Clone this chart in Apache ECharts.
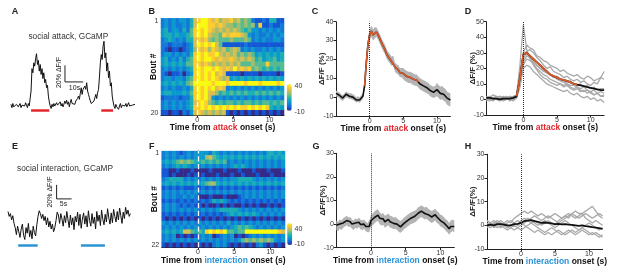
<!DOCTYPE html>
<html>
<head>
<meta charset="utf-8">
<script src="https://cdn.jsdelivr.net/npm/echarts@6/dist/echarts.min.js"></script>
<style>html,body{margin:0;padding:0;background:#fff}#graph{width:617px;height:275px}</style>
</head>
<body>
<div id="graph"></div>
<script>
"use strict"

const FONT = "Liberation Sans";
const RED = "#e0282c", BLUE = "#2b93d6", ORANGE = "#dc5a2a";
const PARULA = ["#352a87", "#0f5cdd", "#1481d6", "#06a4ca", "#2eb7a4", "#87bf77", "#d1bb59", "#fec832", "#f9fb0e"];

// A: raw trace during attack, 0.5 s steps, %dF/F
const attackTrace = [2,-2,3,-1,1,-3,2,4,-1,0,3,-2,1,-1,2,0,4,1,-2,3,0,
    2,18,45,40,52,48,57,63,50,55,42,50,38,45,33,40,28,32,22,25,12,5,
    0,-3,2,-1,3,0,-2,4,1,-1,2,5,0,3,-1,2,6,
    3,7,2,5,-1,4,8,3,1,5,2,6,4,9,
    12,8,15,22,14,20,18,24,20,28,18,14,10,6,3,
    4,1,6,10,14,9,16,20,
    35,52,62,56,72,78,58,64,42,52,34,42,24,28,12,5,
    0,-3,2,-1,1,-4,0,3,-2,1,2,-1,0,3,-1,1,4,0,2,-2,1,3,0,2];
const attackBouts = [[11, 21], [49.5, 56]];
const attackScale = [29.6, 29, 10, 20];   // x, y, 10 s, 20 %

// E: raw trace during interaction, 0.4 s steps
const socialTrace = [15,8,12,3,9,-2,
    -8,-18,-6,-14,-22,-10,-3,-19,-25,-8,-16,-2,-21,-12,-24,-6,-15,-20,-4,
    8,16,12,
    5,11,2,8,-4,6,-7,1,-10,-3,-14,-8,
    2,14,10,
    -2,12,4,-6,9,-1,15,3,-8,10,-4,6,-11,8,0,14,-5,11,-9,4,
    13,-3,9,-7,16,2,-6,12,-2,7,-10,15,1,10,-5,17,4,-4,11,0,
    19,6,-3,13,-1,18,8,0,15,3,20,9,-2,14,5,21,11,17,8,12];
const socialBouts = [[3.4, 9.9], [24.3, 32.3]];
const socialScale = [16.2, 33, 5, 20];

// B / F heatmaps: one string per bout, 0.5 s bins from -5 s to 12 s, levels 0..9 (-10 .. 40)
const attackRows = [
    "23232332" + "47" + "8998" + "78677867" + "565" + "211214411",
    "23232232" + "47" + "9998" + "8787" + "66565656" + "28112112",
    "34233242" + "58" + "9898" + "76767676" + "545332323232",
    "34434334" + "58" + "9897" + "665" + "878887" + "6" + "3232232323",
    "23432324" + "47" + "8786" + "5655565556" + "5" + "232322332",
    "22122212" + "37" + "989897" + "5" + "11111121111111111",
    "21011012" + "36" + "8786" + "87675676" + "232322323232",
    "23323232" + "48" + "9898" + "897" + "676756565" + "34343434",
    "34232424" + "58" + "9899" + "878" + "778767676" + "45344534",
    "34343435" + "58" + "8787" + "67676767" + "555655585555",
    "23232323" + "48" + "9899" + "89878797878" + "565454545",
    "21011202" + "38" + "9898" + "9787" + "1111011110111101",
    "23323324" + "58" + "9898" + "98767" + "343434343434343",
    "34343435" + "69" + "9999" + "89998999" + "989998999989",
    "23232232" + "48" + "9898" + "9787" + "2323232323232323",
    "34433343" + "58" + "9897" + "76" + "454545454454545454",
    "12222122" + "48" + "9897" + "32323232323232323232",
    "23232323" + "47" + "8986" + "54545545455454554545",
    "23232323" + "48" + "8989" + "8989898988989898" + "4343",
    "11011021" + "37" + "8767" + "6767" + "1010101010101010"
];
const socialRows = [
    "2323212323" + "3332432323" + "23232323244343",
    "2323232323" + "3367543434" + "34343434343434",
    "3434" + "56565" + "4" + "45454545" + "2323232323232323",
    "2323434323" + "2323232323" + "43432323232323",
    "1100100010" + "0001000100" + "01000100010001",
    "1101000101" + "0100010001" + "00100010001000",
    "2344442323" + "2323232323" + "34444323232323",
    "3434343434" + "3456643434" + "34343434343434",
    "1212121112" + "1212121212" + "12121212121212",
    "2323232323" + "2323232323" + "23232323232323",
    "2323223232" + "0001000100" + "01232323232323",
    "1212121212" + "1212434321" + "21212121212121",
    "2323212121" + "1010010101" + "00101010010101",
    "2323232323" + "2323234444" + "43232323232323",
    "1212121212" + "1212121234" + "34343432323232",
    "1010101010" + "1010101010" + "10101010101010",
    "3232323232" + "3232323242" + "32323232323232",
    "2323232323" + "2323232323" + "45454323232323",
    "343434" + "77" + "5454" + "898989" + "55455" + "99999999987",
    "2323010101" + "2323012323" + "01012323232323",
    "2323232323" + "2323232323" + "23" + "565656565" + "323",
    "1010101010" + "1010232310" + "10101023101010"
];
const levelValues = [-10, -4.4, 1.1, 6.7, 12.2, 17.8, 23.3, 28.9, 34.4, 40];

// C: mean +- sem, attack, 0.25 s steps from -5 s
const attackMean = [2,1.5,1,0, -0.5,0.5,1.5,1, 0.5,0.5,0,-0.5, -1.5,-1,-1.5,-0.5,
    0.5,6,18,28, 33,35,33,34, 34.5,33,31,29, 27,25.5,23,21.5, 20.5,19,19.5,16,
    15,14.5,13,13, 12.5,11.5,11,10.5, 10.5,10,9.5,9, 9,8,7,6.5, 6,5.5,5,4.5,
    3.5,3,2.5,3, 4,3,2,2.5, 1.5,1,-0.5,-1, -1.5];
const attackSem = [1.5,1.5,1.5,1.5, 1.5,1.5,1.5,1.5, 1.5,1.5,1.5,1.5, 1.5,1.5,1.5,1.5,
    1.5,2,2.5,3, 3,3,3,3, 2.5,2.5,2.5,2.5, 2.5,2.5,2.5,2.5, 2.5,2.5,2.5,2.5,
    2.5,2.5,2.5,2.5, 3,3,3,3, 3,3,3,3, 3,3,3,3, 3,3,3,3,
    3,3,3,3, 3.5,3.5,3.5,3.5, 3.5,3.5,3.5,3.5, 3.5];
const attackWindowC = [-0.75, 7.25];

// D: per-animal attack responses, 0.5 s steps from -5.5 s
const attackAnimals = [
    [1,2,0,1,2,1,0,1,2,3, 22,48,32,27,24,22,20,19,17,16, 15,13,12,11,10,9,9,8,7,8, 6,5,6,4,5,4],
    [2,1,3,2,1,2,1,2,1,2, 15,30,35,33,32,28,27,25,24,22, 21,20,18,19,17,16,15,16,14,13, 15,14,12,13,14,13],
    [0,1,1,0,2,1,2,0,1,1, 12,28,31,32,30,27,25,22,20,21, 18,17,16,14,15,13,12,13,11,12, 10,9,11,10,14,18],
    [1,0,-1,1,0,1,0,1,0,2, 10,24,28,27,25,22,20,18,17,16, 14,15,13,12,11,12,10,9,10,8, 9,7,8,6,7,7],
    [-1,0,1,0,-1,0,1,-1,0,1, 8,22,26,25,23,20,18,16,15,13, 12,11,10,9,10,8,7,8,6,5, 6,4,3,4,2,2],
    [1,2,1,2,1,0,1,2,1,2, 9,20,22,21,18,16,14,12,10,9, 8,7,6,5,6,4,3,4,2,1, 2,0,1,-1,0,-2],
    [0,-1,0,1,0,-1,0,1,-1,1, 11,26,30,26,22,19,16,14,13,11, 10,9,10,8,9,7,6,7,5,6, 4,5,3,4,2,3]
];
const attackAnimalMean = [1,1,0.5,0.5,0,0.5,0.5,0.5,1,2, 14,29,30,28,26,24,22,20,18,16,
    15,14,13,12.5,12,11,10,9.5,9,8.5, 8,7.5,7,6.5,6,6];
const attackWindowD = [-1, 8];

// G: mean +- sem, interaction, 0.25 s steps from -5 s
const socialMean = [-0.5,-1,0,-0.5, 0.5,1,1.5,0.8, 1,0,-0.5,0.5, 0,0.8,-0.2,-0.5, 0,-1,-1.5,-1,
    1.5,2,2.8,3.5, 3.8,2.5,1.8,2.2, 1,1.5,2,1, 0.8,0.3,0.5,0, -0.8,-1.2,-0.5,0.3,
    0.8,1.5,2,2.5, 2.8,3.2,3.5,4.5, 5,5.5,5,4.5, 4.8,4,3.5,3, 3.5,4,3,2.5,
    1.5,1.2,0.5,-0.3, -1,-2,-1,-0.5, -1];
const socialSem = [2,2,2,2, 2,2,2,2, 2,2,2,2, 2,2,2,2, 2,2,2,2.5,
    2.5,2.5,2.5,2.5, 2.5,2.5,2.5,2.5, 2.5,2.5,2.5,2.5, 2.5,2.5,2.5,2.5, 2.5,2.5,2.5,2.5,
    2.5,2.5,2.5,2.5, 2.5,2.5,2.5,2.5, 2.5,2.5,2.5,2.5, 2.5,2.5,2.5,2.5, 2.5,2.5,2.5,2.5,
    2.5,2.5,2.5,2.5, 2.5,2.5,2.5,2.5, 2.5];

// H: per-animal interaction responses, 0.5 s steps from -5 s
const socialAnimals = [
    [2,1,2,1,0,1,2,1,3,4, 5,6,5,6,5,4,5,4,3,4, 5,4,3,4,5,4,3,4,5,3, 2,1,2,1,0],
    [0,1,-1,0,1,0,-1,0,1,0, 2,3,2,1,2,1,0,1,2,1, 0,2,3,4,3,5,6,5,5,6, 7,8,6,4,3],
    [-1,0,1,2,1,0,-1,0,1,2, 1,0,-1,-2,-3,-2,-3,-4,-3,-4, -3,-2,-3,-4,-3,-2,-3,-2,-1,-2, -3,-4,-3,-4,-5],
    [1,0,1,0,-1,0,1,2,1,0, 1,2,3,2,1,0,1,2,1,0, -1,0,1,2,1,0,-1,-2,-1,0, 1,0,-1,-2,-1],
    [0,-1,0,1,2,1,0,-1,-2,-1, 0,1,2,3,4,3,2,3,4,3, 2,1,2,3,4,5,4,3,4,5, 4,3,4,5,4],
    [2,1,0,-1,0,-1,-2,-1,0,-1, -2,-1,0,1,0,-1,-2,-3,-2,-1, -2,-3,-4,-3,-2,-3,-4,-3,-2,-3, -4,-3,-4,-5,-4]
];
const socialAnimalMean = [0,0.3,0,0.5,0.5,0.3,0,0,0.5,0.6, 1,1.8,2,2.2,1.8,1.5,1,1.2,1,0.8,
    0.5,0.6,0.4,0.5,0.3,0.2,0,-0.2,0,-0.3, -0.5,-0.8,-1,-1.2,-1.5];

const timeTicks = [0, 5, 10];

function timed(vals, t0, dt) { return vals.map((v, i) => [t0 + i * dt, v]); }
function within(pts, win) { return pts.filter(p => p[0] >= win[0] && p[0] <= win[1]); }
function heatData(rows)
{
    const out = [];
    rows.forEach((row, r) => [...row].forEach((ch, c) => out.push([c, r, levelValues[+ch]])));
    return out;
}

const axLine = { show: true, onZero: false, lineStyle: { color: "#222", width: 1 } };
const axTick = { show: true, length: 2.5, lineStyle: { color: "#222", width: 1 } };
const axLab = { fontSize: 7, color: "#333", margin: 2.5, fontFamily: FONT };
const noSplit = { show: false };

function timeAxis(gridIndex, min, word, color)
{
    return {
        type: "value", gridIndex, min, max: 12, position: "bottom",
        axisLine: axLine, axisTick: { ...axTick, customValues: timeTicks },
        axisLabel: { ...axLab, margin: 1.5, customValues: timeTicks }, splitLine: noSplit,
        name: `{b|Time from }{h|${word}}{b| onset (s)}`, nameLocation: "middle", nameGap: 8.5, nameMoveOverlap: false,
        nameTextStyle: {
            rich: {
                b: { fontSize: 8.5, fontWeight: "bold", color: "#111", fontFamily: FONT },
                h: { fontSize: 8.5, fontWeight: "bold", color, fontFamily: FONT }
            }
        }
    };
}
function dffAxis(gridIndex, min, max, name)
{
    return {
        type: "value", gridIndex, min, max, interval: 10, position: "left",
        axisLine: axLine, axisTick: axTick, axisLabel: axLab, splitLine: noSplit,
        name, nameLocation: "middle", nameGap: 10, nameMoveOverlap: false,
        nameTextStyle: { fontSize: 8, fontWeight: "bold", color: "#222", fontFamily: FONT }
    };
}
function hiddenAxis(gridIndex, min, max, position)
{
    return { type: "value", gridIndex, min, max, show: false, position, splitLine: noSplit };
}
function boutAxis(gridIndex, n)
{
    const names = Array.from({ length: n }, (_, i) => String(i + 1));
    const edge = i => i === 0 || i === n - 1;
    return {
        type: "category", gridIndex, data: names, inverse: true, position: "left",
        axisLine: { show: true, lineStyle: { color: "#222" } },
        axisTick: { show: true, length: 2.5, interval: edge, alignWithLabel: true, lineStyle: { color: "#222" } },
        axisLabel: { ...axLab, interval: edge }, splitLine: noSplit,
        name: "Bout #", nameLocation: "middle", nameGap: 3, nameMoveOverlap: false,
        nameTextStyle: { fontSize: 8.5, fontWeight: "bold", color: "#111", fontFamily: FONT }
    };
}
function binAxis(gridIndex)
{
    return { type: "category", gridIndex, show: false, position: "top", data: attackRows[0].split("").map((_, i) => i) };
}

const L = { type: "line", symbol: "none", silent: true, animation: false };
const zeroLine = {
    silent: true, symbol: ["none", "none"], label: { show: false }, animation: false,
    lineStyle: { type: "dotted", color: "#333", width: 1 }, data: [{ xAxis: 0 }]
};
function boutBars(bouts, y, color)
{
    return {
        silent: true, symbol: ["none", "none"], label: { show: false }, animation: false,
        lineStyle: { type: "solid", color, width: 2.5 },
        data: bouts.map(b => [{ coord: [b[0], y] }, { coord: [b[1], y] }])
    };
}
function scaleBar(s) { return [[s[0], s[1] + s[3]], [s[0], s[1]], [s[0] + s[2], s[1]]]; }
// shaded sem band: polygon through mean+sem then back through mean-sem
function band(xi, yi, mean, sem, t0, dt)
{
    const upper = timed(mean.map((m, i) => m + sem[i]), t0, dt);
    const lower = timed(mean.map((m, i) => m - sem[i]), t0, dt).reverse();
    const outline = upper.concat(lower);
    return {
        type: "custom", xAxisIndex: xi, yAxisIndex: yi, silent: true, animation: false, data: [[0, 0]],
        renderItem: (params, api) => ({
            type: "polygon", shape: { points: outline.map(p => api.coord(p)) }, style: { fill: "#b4b4b4" }
        })
    };
}

const attackC = timed(attackMean, -5, 0.25);
const attackD = timed(attackAnimalMean, -5.5, 0.5);
const socialG = timed(socialMean, -5, 0.25);

const series = [
    // A
    { ...L, xAxisIndex: 0, yAxisIndex: 0, data: timed(attackTrace, 0, 0.5), lineStyle: { color: "#111", width: 1 },
      markLine: boutBars(attackBouts, -5, RED) },
    { ...L, xAxisIndex: 0, yAxisIndex: 0, data: scaleBar(attackScale), lineStyle: { color: "#222", width: 1 } },
    // B
    { type: "heatmap", xAxisIndex: 1, yAxisIndex: 1, data: heatData(attackRows), silent: true, animation: false },
    { ...L, xAxisIndex: 2, yAxisIndex: 2, data: [[0, 0.5]], lineStyle: { opacity: 0 },
      markLine: { ...zeroLine, lineStyle: { type: "dashed", color: "#fff", width: 1.3 } } },
    // C
    band(3, 3, attackMean, attackSem, -5, 0.25),
    { ...L, xAxisIndex: 3, yAxisIndex: 3, data: attackC, lineStyle: { color: "#111", width: 1.6 }, markLine: zeroLine },
    { ...L, xAxisIndex: 3, yAxisIndex: 3, data: within(attackC, attackWindowC), lineStyle: { color: ORANGE, width: 1.6 } },
    // D
    ...attackAnimals.map(a => ({ ...L, xAxisIndex: 4, yAxisIndex: 4, data: timed(a, -5.5, 0.5), lineStyle: { color: "#a9a9a9", width: 1.3 } })),
    { ...L, xAxisIndex: 4, yAxisIndex: 4, data: attackD, lineStyle: { color: "#111", width: 1.8 }, markLine: zeroLine },
    { ...L, xAxisIndex: 4, yAxisIndex: 4, data: within(attackD, attackWindowD), lineStyle: { color: ORANGE, width: 1.8 } },
    // E
    { ...L, xAxisIndex: 5, yAxisIndex: 5, data: timed(socialTrace, 0, 0.4), lineStyle: { color: "#111", width: 1 },
      markLine: boutBars(socialBouts, -33, BLUE) },
    { ...L, xAxisIndex: 5, yAxisIndex: 5, data: scaleBar(socialScale), lineStyle: { color: "#222", width: 1 } },
    // F
    { type: "heatmap", xAxisIndex: 6, yAxisIndex: 6, data: heatData(socialRows), silent: true, animation: false },
    { ...L, xAxisIndex: 7, yAxisIndex: 7, data: [[0, 0.5]], lineStyle: { opacity: 0 },
      markLine: { ...zeroLine, lineStyle: { type: "dashed", color: "#fff", width: 1.3 } } },
    // G
    band(8, 8, socialMean, socialSem, -5, 0.25),
    { ...L, xAxisIndex: 8, yAxisIndex: 8, data: socialG, lineStyle: { color: "#111", width: 1.6 }, markLine: zeroLine },
    // H
    ...socialAnimals.map(a => ({ ...L, xAxisIndex: 9, yAxisIndex: 9, data: timed(a, -5, 0.5), lineStyle: { color: "#a9a9a9", width: 1.3 } })),
    { ...L, xAxisIndex: 9, yAxisIndex: 9, data: timed(socialAnimalMean, -5, 0.5), lineStyle: { color: "#111", width: 1.8 }, markLine: zeroLine }
];
const heatB = series.findIndex(s => s.type === "heatmap");
const heatF = series.findIndex((s, i) => s.type === "heatmap" && i > heatB);

function txt(x, y, text, size, extra)
{
    return { type: "text", x, y, silent: true,
        style: { text, fontSize: size, fontFamily: FONT, fill: "#222", align: "center", verticalAlign: "middle", ...extra } };
}
function vtxt(x, y, text, size)
{
    return { ...txt(x, y, text, size), rotation: Math.PI / 2 };
}

const option = {
    animation: false,
    textStyle: { fontFamily: FONT },
    grid: [
        { left: 11, top: 39.6, width: 124, height: 74.7 },
        { left: 161, top: 18.3, width: 123, height: 96.8 },
        { left: 336, top: 21.7, width: 114.4, height: 94.3 },
        { left: 486.3, top: 21.7, width: 117.8, height: 93.3 },
        { left: 8, top: 183.5, width: 123, height: 63 },
        { left: 161.7, top: 151.1, width: 123.3, height: 96.1 },
        { left: 336.3, top: 153.3, width: 118, height: 94.4 },
        { left: 487, top: 154.3, width: 115.6, height: 94.7 }
    ],
    xAxis: [
        hiddenAxis(0, 0, 68, "bottom"),
        binAxis(1),
        timeAxis(1, -5, "attack", RED),
        timeAxis(2, -5, "attack", RED),
        timeAxis(3, -5.5, "attack", RED),
        hiddenAxis(4, 0, 41, "bottom"),
        binAxis(5),
        timeAxis(5, -5, "interaction", BLUE),
        timeAxis(6, -5, "interaction", BLUE),
        timeAxis(7, -5, "interaction", BLUE)
    ],
    yAxis: [
        hiddenAxis(0, -10, 80, "left"),
        boutAxis(1, attackRows.length),
        hiddenAxis(1, 0, 1, "right"),
        dffAxis(2, -10, 40, "ΔF/F (%)"),
        dffAxis(3, -10, 50, "ΔF/F (%)"),
        hiddenAxis(4, -35, 55, "left"),
        boutAxis(5, socialRows.length),
        hiddenAxis(5, 0, 1, "right"),
        dffAxis(6, -10, 30, "ΔF/F(%)"),
        dffAxis(7, -10, 30, "ΔF/F(%)")
    ],
    visualMap: [
        { type: "continuous", seriesIndex: heatB, min: -10, max: 40, inRange: { color: PARULA },
          left: 286.7, top: 84.3, itemWidth: 5, itemHeight: 26.4, padding: 0, calculable: false },
        { type: "continuous", seriesIndex: heatF, min: -10, max: 40, inRange: { color: PARULA },
          left: 287.2, top: 223.3, itemWidth: 5, itemHeight: 21.7, padding: 0, calculable: false }
    ],
    graphic: [
        txt(15, 11.7, "A", 9, { fontWeight: "bold" }),
        txt(151.7, 11.7, "B", 9, { fontWeight: "bold" }),
        txt(315, 11.7, "C", 9, { fontWeight: "bold" }),
        txt(468, 11.7, "D", 9, { fontWeight: "bold" }),
        txt(15, 146.7, "E", 9, { fontWeight: "bold" }),
        txt(151.7, 146.7, "F", 9, { fontWeight: "bold" }),
        txt(316, 146.7, "G", 9, { fontWeight: "bold" }),
        txt(468, 146.7, "H", 9, { fontWeight: "bold" }),
        txt(68.3, 36.7, "social attack, GCaMP", 8.3, { fill: "#333" }),
        txt(65, 168.3, "social interaction, GCaMP", 8.3, { fill: "#333" }),
        vtxt(59.5, 72.5, "20% ΔF/F", 7),
        txt(74.5, 88.5, "10s", 7),
        vtxt(50, 192, "20% ΔF/F", 7),
        txt(63.5, 204.5, "5s", 7),
        txt(294.5, 86, "40", 7, { align: "left", fill: "#333" }),
        txt(294.5, 112, "-10", 7, { align: "left", fill: "#333" }),
        txt(294.5, 229, "40", 7, { align: "left", fill: "#333" }),
        txt(294.5, 244.5, "-10", 7, { align: "left", fill: "#333" })
    ],
    series
};

const myChart = echarts.init(document.getElementById("graph"), null, { renderer: "canvas" });
myChart.setOption(option);
</script>
</body>
</html>
